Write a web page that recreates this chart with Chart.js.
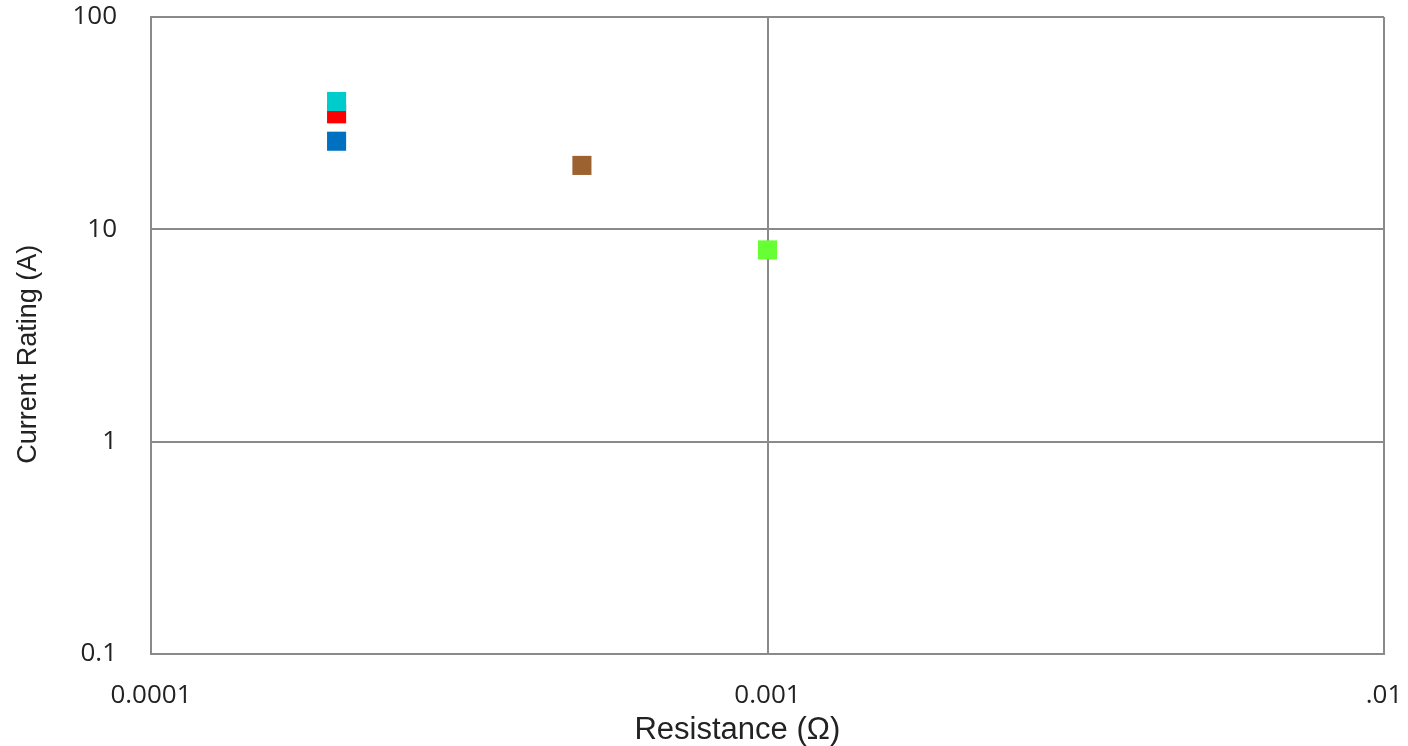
<!DOCTYPE html>
<html>
<head>
<meta charset="utf-8">
<script src="https://cdn.jsdelivr.net/npm/chart.js@4"></script>
<style>
  html, body { margin: 0; padding: 0; background: #fff; }
  #wrap { width: 1408px; height: 746px; }
</style>
</head>
<body>
<div id="wrap"><canvas id="myChart"></canvas></div>
<script>
// first series is drawn on top
const seriesNames = ["Series 1", "Series 2", "Series 3", "Series 4", "Series 5"];
const resistance = [0.0002, 0.0002, 0.0002, 0.0005, 0.001];
const currentRating = [40, 35, 26, 20, 8];
const xTicks = [0.0001, 0.001, 0.01];
const xTickLabels = ["0.0001", "0.001", ".01"];
const yTicks = [0.1, 1, 10, 100];
const yTickLabels = ["0.1", "1", "10", "100"];

const colors = ["#00CCCC", "#FF0000", "#0070C0", "#9C6330", "#66FF33"];

const chartEl = document.getElementById("myChart");

let datasets = seriesNames.map((name, i) => ({
    label: name,
    data: [{ x: resistance[i], y: currentRating[i] }],
    backgroundColor: colors[i],
    borderWidth: 0,
    pointStyle: "rect",
    pointRadius: 13.5,
    pointHoverRadius: 13.5
}));

const gridColor = "#8a8a8a";

let config = {
    type: "scatter",
    data: { datasets: datasets },
    options: {
        responsive: true,
        maintainAspectRatio: false,
        animation: false,
        layout: { padding: { top: 17, right: 24, bottom: 0, left: 0 } },
        plugins: {
            legend: { display: false },
            tooltip: { enabled: false }
        },
        scales: {
            x: {
                type: "logarithmic",
                min: 0.0001,
                max: 0.01,
                afterBuildTicks: (scale) => { scale.ticks = xTicks.map(v => ({ value: v })); },
                afterFit: (scale) => {
                    scale.height = 92;
                    scale.paddingLeft = 0;
                    scale.paddingRight = 0;
                },
                ticks: {
                    callback: (v) => xTickLabels[xTicks.indexOf(v)] ?? "",
                    autoSkip: false,
                    maxRotation: 0,
                    padding: 26,
                    color: "#222",
                    font: { family: "'Open Sans'", size: 26 }
                },
                grid: { color: gridColor, lineWidth: 2, drawTicks: false },
                border: { color: gridColor, width: 2 },
                title: {
                    display: true,
                    // trailing spaces nudge the title left as in the original
                    text: "Resistance (Ω)       ",
                    color: "#222",
                    font: { family: "'Liberation Sans'", size: 31, lineHeight: 1 },
                    padding: 0
                }
            },
            y: {
                type: "logarithmic",
                min: 0.1,
                max: 100,
                afterBuildTicks: (scale) => { scale.ticks = yTicks.map(v => ({ value: v })); },
                afterFit: (scale) => {
                    scale.width = 151;
                    scale.paddingTop = 0;
                    scale.paddingBottom = 0;
                },
                ticks: {
                    callback: (v) => yTickLabels[yTicks.indexOf(v)] ?? "",
                    autoSkip: false,
                    padding: 34,
                    color: "#222",
                    font: { family: "'Open Sans'", size: 26 }
                },
                grid: { color: gridColor, lineWidth: 2, drawTicks: false },
                border: { color: gridColor, width: 2 },
                title: {
                    display: true,
                    text: "Current Rating (A)     ",
                    color: "#222",
                    font: { family: "'Liberation Sans'", size: 27, lineHeight: 1 },
                    padding: { top: 15, bottom: 0 }
                }
            }
        }
    }
};

myChart = new Chart(chartEl, config);
</script>
</body>
</html>
